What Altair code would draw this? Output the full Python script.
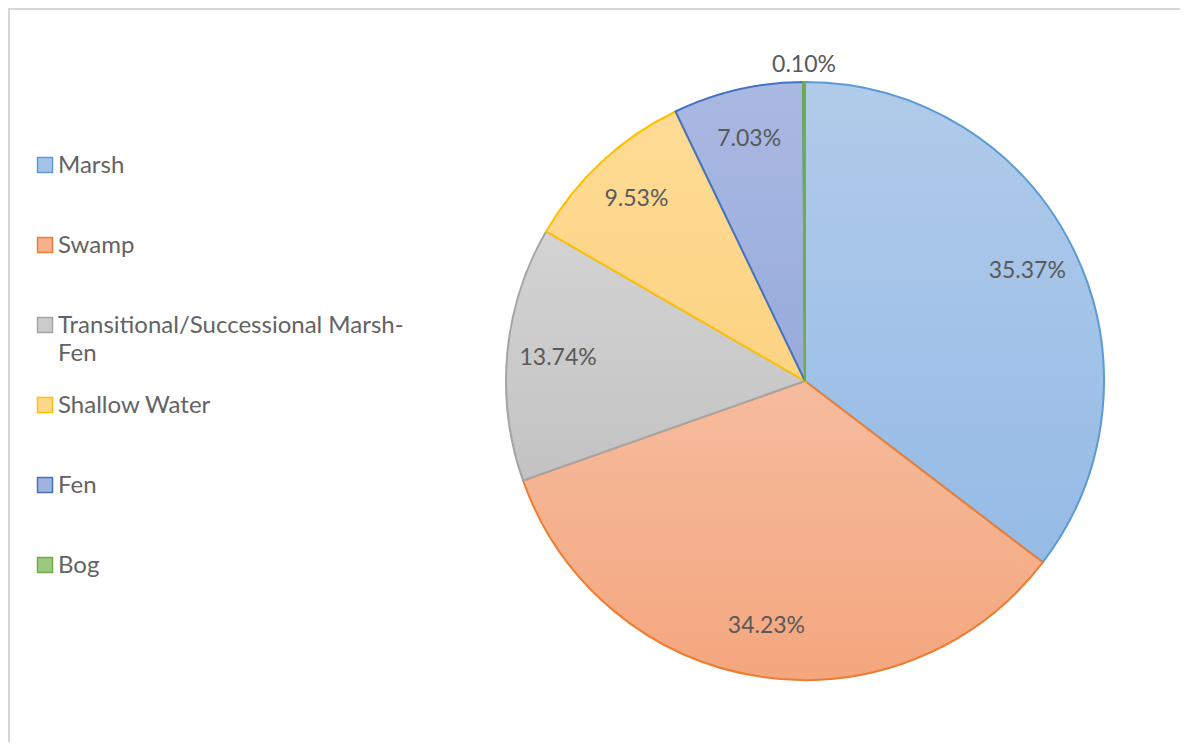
import altair as alt
import pandas as pd

cats = ["Marsh", "Swamp", "Transitional/Successional Marsh-Fen", "Shallow Water", "Fen", "Bog"]
legend_labels = ["Marsh", "Swamp", "Transitional/Successional Marsh-\nFen", "Shallow Water", "Fen", "Bog"]
values = [35.37, 34.23, 13.74, 9.53, 7.03, 0.10]

strokes = ["#5b9bd5", "#ed7d31", "#a5a5a5", "#ffc000", "#4472c4", "#70ad47"]
light = ["#b1cbea", "#f6bc9e", "#d3d3d3", "#fedb95", "#aab9e2", "#a9cf94"]
dark = ["#95bbe6", "#f4a67e", "#c3c3c3", "#fdd383", "#97abdb", "#8fc070"]
legend_fill = ["#a3c4e8", "#f5b18e", "#cbcbcb", "#fed78c", "#a0b2de", "#9cc882"]

df = pd.DataFrame({"cat": cats, "label": legend_labels, "value": values})
df["end"] = df["value"].cumsum()
df["start"] = df["end"] - df["value"]
df["mid"] = (df["start"] + df["end"]) / 2
df["pct"] = df["value"].map(lambda v: f"{v:.2f}%")

CX, CY, R = 797, 373, 299
theta_scale = alt.Scale(domain=[0, 100])

base = alt.Chart(df)

layers = []
for c, lo, hi, st in zip(cats, light, dark, strokes):
    grad = alt.LinearGradient(
        gradient="linear", x1=0, y1=0, x2=0, y2=1,
        stops=[alt.GradientStop(color=lo, offset=0), alt.GradientStop(color=hi, offset=1)],
    )
    layers.append(
        base.transform_filter(alt.datum.cat == c)
        .mark_arc(radius=R, fill=grad, stroke=st, strokeWidth=2)
        .encode(
            theta=alt.Theta("start:Q", scale=theta_scale, stack=None),
            theta2="end:Q",
            x=alt.value(CX),
            y=alt.value(CY),
        )
    )

labels_in = (
    base.transform_filter(alt.datum.value >= 1)
    .mark_text(radius=248, font="Lato", fontSize=23, color="#595959")
    .encode(
        theta=alt.Theta("mid:Q", scale=theta_scale, stack=None),
        text="pct:N",
        x=alt.value(CX),
        y=alt.value(CY),
    )
)
labels_out = (
    base.transform_filter(alt.datum.value < 1)
    .mark_text(radius=318, font="Lato", fontSize=23, color="#595959", dy=2)
    .encode(
        theta=alt.Theta("mid:Q", scale=theta_scale, stack=None),
        text="pct:N",
        x=alt.value(CX),
        y=alt.value(CY),
    )
)

ypos = alt.Y("cat:N", scale=alt.Scale(type="point", domain=cats, range=[157, 557], padding=0), axis=None)
leg_sym = base.mark_point(shape="square", filled=True, size=225, strokeWidth=1.5, opacity=1).encode(
    x=alt.value(37),
    y=ypos,
    fill=alt.Fill("cat:N", scale=alt.Scale(domain=cats, range=legend_fill), legend=None),
    stroke=alt.Stroke("cat:N", scale=alt.Scale(domain=cats, range=strokes), legend=None),
)
leg_txt = base.mark_text(
    align="left", baseline="alphabetic", dy=8, font="Lato", fontSize=24,
    color="#636363", lineBreak="\n", lineHeight=28,
).encode(x=alt.value(50), y=ypos, text="label:N")

border_top = base.mark_rule(color="#d6d6d6", strokeWidth=2).encode(
    x=alt.value(0), x2=alt.value(1180), y=alt.value(1)
)
border_left = base.mark_rule(color="#d6d6d6", strokeWidth=2).encode(
    x=alt.value(1), y=alt.value(0), y2=alt.value(734)
)

chart = (
    alt.layer(*layers, labels_in, labels_out, leg_sym, leg_txt, border_top, border_left)
    .properties(width=1172, height=734, padding=0, autosize="none", background="white")
    .configure_view(stroke=None)
)

chart.save("out.html", embed_options={"renderer": "svg", "actions": False})
